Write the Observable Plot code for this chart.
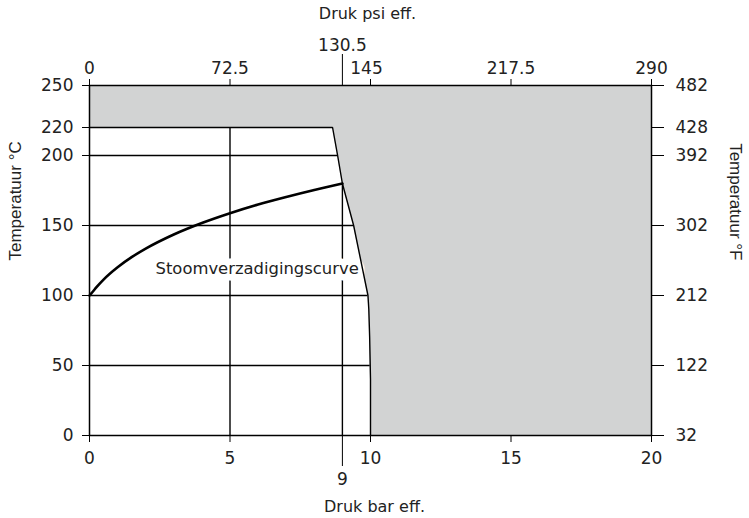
<!DOCTYPE html>
<html>
<head>
<meta charset="utf-8">
<script src="https://cdn.jsdelivr.net/npm/d3@7"></script>
<script src="https://cdn.jsdelivr.net/npm/@observablehq/plot@0.6"></script>
<style>
  html, body { margin: 0; padding: 0; background: #fff; }
</style>
</head>
<body>
<div id="chart"></div>
<script>
// Bottom axis: pressure in bar (gauge)
const barTicks = [0, 5, 10, 15, 20];
const barTickLabels = ["0", "5", "10", "15", "20"];
// Top axis: pressure in psi (gauge)
const psiTickLabels = ["0", "72.5", "145", "217.5", "290"];
const markBar = [9];
const markBarLabel = ["9"];
const markPsiLabel = ["130.5"];
const shiftedPsiTick = [10];
// Temperature axes
const celsiusTicks = [0, 50, 100, 150, 200, 220, 250];
const fahrenheitLabels = ["32", "122", "212", "302", "392", "428", "482"];
// Steam saturation curve (bar gauge, °C)
const satPressure = [0, 0.1, 0.25, 0.5, 1, 1.5, 2, 3, 4, 5, 6, 7, 8, 9];
const satTemp = [100, 102.3, 106.0, 111.4, 120.2, 127.4, 133.5, 143.6, 151.8, 158.8, 165.0, 170.4, 175.4, 180];
// Operating limit boundary (°C, bar gauge)
const limitTemp = [0, 40, 50, 70, 90, 100, 150, 180, 200, 220];
const limitPressure = [10, 10, 9.99, 9.97, 9.94, 9.91, 9.4, 9.0, 8.83, 8.65];
// Grid lines
const gridTemps = [50, 100, 150, 200];
const gridPressures = [5, 9];
const gridPressureTops = [220, 180];
const curveLabel = ["Stoomverzadigingscurve"];

const sat = satPressure.map((p, i) => ({p, t: satTemp[i]}));
const limit = limitTemp.map((t, i) => ({t, p: limitPressure[i]}));
const limitAt = t => limitPressure[limitTemp.indexOf(t)];
const gray = "#d2d3d3";
const ink = "#222";

const plot = Plot.plot({
  width: 749,
  height: 518,
  marginLeft: 89,
  marginRight: 98,
  marginTop: 85,
  marginBottom: 83,
  style: {fontFamily: "DejaVu Sans", fontSize: "17px", color: "#000", background: "#fff"},
  x: {domain: [0, 20], axis: null, label: null},
  y: {domain: [0, 250], axis: null, label: null},
  marks: [
    Plot.frame({fill: gray, stroke: null}),
    Plot.areaX(limit, {y: "t", x1: 0, x2: "p", fill: "#fff"}),
    Plot.ruleY(gridTemps, {x1: 0, x2: d => limitAt(d), stroke: "#000", strokeWidth: 1.4}),
    Plot.ruleX(gridPressures, {y1: 0, y2: (d, i) => gridPressureTops[i], stroke: "#000", strokeWidth: 1.4}),
    Plot.text(curveLabel, {x: 2.35, y: 119, text: d => d, textAnchor: "start", fontSize: 16.4,
      fill: ink, stroke: "#fff", strokeWidth: 13}),
    Plot.ruleY([220], {x1: 0, x2: limitAt(220), stroke: "#000", strokeWidth: 1.4}),
    Plot.line(limit, {x: "p", y: "t", stroke: "#000", strokeWidth: 1.4}),
    Plot.line(sat, {x: "p", y: "t", curve: "monotone-x", stroke: "#000", strokeWidth: 2.6}),
    Plot.frame({stroke: "#000", strokeWidth: 1.5}),
    // axes
    Plot.axisX(barTicks, {anchor: "bottom", label: null, tickSize: 7, tickPadding: 9, tickFormat: d => barTickLabels[barTicks.indexOf(d)], fill: ink}),
    Plot.axisX(markBar, {anchor: "bottom", label: null, tickSize: 31, tickPadding: 6, tickFormat: () => markBarLabel[0], fill: ink}),
    Plot.axisX(barTicks, {anchor: "top", label: null, tickSize: 7, tickPadding: 5, tickFormat: d => shiftedPsiTick.includes(d) ? "" : psiTickLabels[barTicks.indexOf(d)], fill: ink}),
    Plot.axisX(shiftedPsiTick, {anchor: "top", label: null, tickSize: 0, tickPadding: 12, dx: -4, tickFormat: d => psiTickLabels[barTicks.indexOf(d)], fill: ink}),
    Plot.axisX(markBar, {anchor: "top", label: null, tickSize: 32, tickPadding: 3, tickFormat: () => markPsiLabel[0], fill: ink}),
    Plot.axisY(celsiusTicks, {anchor: "left", label: null, tickSize: 7, tickPadding: 9, tickFormat: d => String(d), fill: ink}),
    Plot.axisY(celsiusTicks, {anchor: "right", label: null, tickSize: 12, tickPadding: 12, tickFormat: d => fahrenheitLabels[celsiusTicks.indexOf(d)], fill: ink}),
    // titles
    Plot.text(["Druk psi eff."], {frameAnchor: "top", lineAnchor: "middle", dy: -72, dx: -3, fontSize: 16, fill: ink}),
    Plot.text(["Druk bar eff."], {frameAnchor: "bottom", lineAnchor: "middle", dy: 71, dx: 4, fontSize: 16, fill: ink}),
    Plot.text(["Temperatuur °C"], {frameAnchor: "left", lineAnchor: "middle", rotate: -90, dx: -74, fontSize: 17, fontFamily: "Liberation Sans", fill: ink}),
    Plot.text(["Temperatuur °F"], {frameAnchor: "right", lineAnchor: "middle", rotate: 90, dx: 84, fontSize: 17, fontFamily: "Liberation Sans", fill: ink})
  ]
});
document.getElementById("chart").appendChild(plot);
</script>
</body>
</html>
